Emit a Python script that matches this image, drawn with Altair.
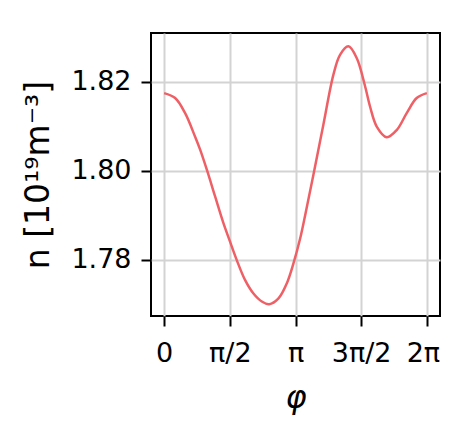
import math
import altair as alt
import pandas as pd

phi = [0.0, 0.263, 0.502, 0.741, 0.861, 1.021, 1.219, 1.418, 1.578, 1.737, 1.937,
       2.136, 2.336, 2.512, 2.735, 2.935, 3.094, 3.254, 3.373, 3.569, 3.808, 4.047,
       4.207, 4.406, 4.605, 4.804, 4.924, 5.084, 5.323, 5.562, 5.801, 6.040, 6.2832]
density = [1.8174, 1.8163, 1.8129, 1.8076, 1.8047, 1.8002, 1.7942, 1.7882, 1.7840,
           1.7799, 1.7754, 1.7724, 1.7706, 1.7700, 1.7713, 1.7747, 1.7792, 1.7848,
           1.7900, 1.7990, 1.8103, 1.8215, 1.8260, 1.8279, 1.8253, 1.8190, 1.8144,
           1.8099, 1.8075, 1.8091, 1.8129, 1.8163, 1.8174]

x_ticks = [0, math.pi / 2, math.pi, 3 * math.pi / 2, 2 * math.pi]
x_tick_labels = ["0", "π/2", "π", "3π/2", "2π"]
y_ticks = [1.78, 1.80, 1.82]

df = pd.DataFrame({"phi": phi, "n": density})

label_expr = (
    f"datum.value < 0.1 ? '{x_tick_labels[0]}' : datum.value < 2 ? '{x_tick_labels[1]}' "
    f": datum.value < 3.5 ? '{x_tick_labels[2]}' : datum.value < 5 ? '{x_tick_labels[3]}' "
    f": '{x_tick_labels[4]}'"
)

x_min, x_max = -0.05 * 2 * math.pi, 1.05 * 2 * math.pi
y_min, y_max = 1.76735, 1.8309

chart = alt.Chart(df).mark_line(
    color="#ee6066", strokeWidth=2.5, interpolate="catmull-rom", clip=True
).encode(
    x=alt.X(
        "phi:Q",
        scale=alt.Scale(domain=[x_min, x_max], nice=False, zero=False),
        axis=alt.Axis(
            values=x_ticks,
            labelExpr=label_expr,
            title="φ",
            titleFontStyle="italic",
            titleFontSize=32,
            titleFontWeight="normal",
            titleBaseline="alphabetic",
            titleY=91,
            labelFontSize=27,
            labelPadding=14,
            labelFlush=False,
            labelOffset=alt.expr("datum.value > 6 ? -4 : 0"),
        ),
    ),
    y=alt.Y(
        "n:Q",
        scale=alt.Scale(domain=[y_min, y_max], nice=False, zero=False),
        axis=alt.Axis(
            values=y_ticks,
            format=".2f",
            title="n [10¹⁹m⁻³]",
            titleFontSize=33,
            titleFontWeight="normal",
            titleAngle=270,
            titleBaseline="middle",
            titleAlign="center",
            titleX=-113,
            titleY=141.5,
            labelFontSize=27,
            labelPadding=10,
        ),
    ),
).properties(
    width=289,
    height=283,
    autosize=alt.AutoSizeParams(type="none"),
    padding={"left": 143, "top": 25, "right": 2, "bottom": 100},
    background="white",
).configure_axis(
    grid=True,
    gridColor="#d3d3d3",
    gridWidth=2,
    domain=False,
    tickColor="black",
    tickSize=10,
    tickWidth=2,
    labelColor="black",
    titleColor="black",
    labelFont="DejaVu Sans",
    titleFont="DejaVu Sans",
).configure_view(
    stroke="black",
    strokeWidth=2,
)

chart.save("out.html", embed_options={"renderer": "svg", "actions": False})
